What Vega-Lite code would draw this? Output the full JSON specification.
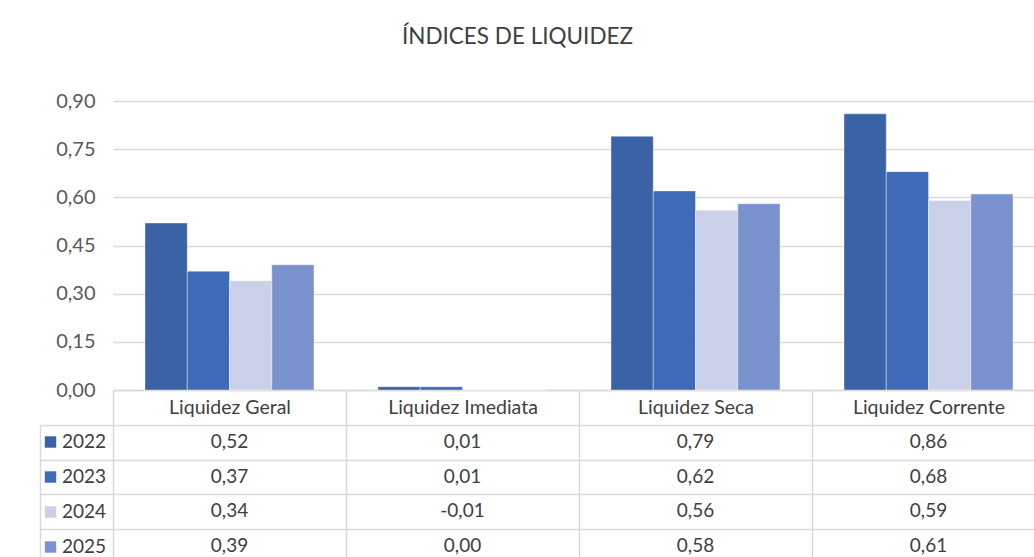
{
  "$schema": "https://vega.github.io/schema/vega-lite/v6.json",
  "width": 921,
  "height": 289,
  "autosize": {"type": "none"},
  "padding": {"left": 113, "top": 101, "right": 0, "bottom": 167},
  "background": "white",
  "title": {"text": "ÍNDICES DE LIQUIDEZ", "anchor": "middle", "dx": -56, "offset": 43, "fontSize": 22.5, "font": "Lato", "fontWeight": "normal", "color": "#404040"},
  "data": {"values": [
    {"cat": "Liquidez Geral", "ano": "2022", "valor": 0.52},
    {"cat": "Liquidez Geral", "ano": "2023", "valor": 0.37},
    {"cat": "Liquidez Geral", "ano": "2024", "valor": 0.34},
    {"cat": "Liquidez Geral", "ano": "2025", "valor": 0.39},
    {"cat": "Liquidez Imediata", "ano": "2022", "valor": 0.01},
    {"cat": "Liquidez Imediata", "ano": "2023", "valor": 0.01},
    {"cat": "Liquidez Imediata", "ano": "2024", "valor": -0.01},
    {"cat": "Liquidez Imediata", "ano": "2025", "valor": 0.0},
    {"cat": "Liquidez Seca", "ano": "2022", "valor": 0.79},
    {"cat": "Liquidez Seca", "ano": "2023", "valor": 0.62},
    {"cat": "Liquidez Seca", "ano": "2024", "valor": 0.56},
    {"cat": "Liquidez Seca", "ano": "2025", "valor": 0.58},
    {"cat": "Liquidez Corrente", "ano": "2022", "valor": 0.86},
    {"cat": "Liquidez Corrente", "ano": "2023", "valor": 0.68},
    {"cat": "Liquidez Corrente", "ano": "2024", "valor": 0.59},
    {"cat": "Liquidez Corrente", "ano": "2025", "valor": 0.61}
  ]},
  "layer": [
    {
      "mark": {"type": "bar", "stroke": "#ffffff", "strokeWidth": 0.75, "strokeOpacity": 0.5},
      "encoding": {
        "x": {"field": "cat", "type": "nominal", "sort": ["Liquidez Geral", "Liquidez Imediata", "Liquidez Seca", "Liquidez Corrente"],
          "scale": {"range": [0, 932], "paddingInner": 0, "paddingOuter": 0},
          "axis": {"title": null, "labelAngle": 0, "labelFont": "Lato", "labelFontSize": 19.5, "labelColor": "#404040", "tickBand": "extent", "tickSize": 172, "tickColor": "#d9d9d9", "tickWidth": 1.5, "labelPadding": -164, "domainColor": "#d9d9d9", "domainWidth": 1.5, "grid": false}},
        "xOffset": {"field": "ano", "type": "nominal", "scale": {"paddingInner": 0, "paddingOuter": 0.757}},
        "y": {"field": "valor", "type": "quantitative", "scale": {"domain": [0, 0.9], "nice": false, "clamp": true},
          "axis": {"title": null, "values": [0, 0.15, 0.3, 0.45, 0.6, 0.75, 0.9], "format": ".2f", "domain": false, "ticks": false, "labelPadding": 18, "labelFont": "Lato", "labelFontSize": 20, "labelColor": "#595959", "gridColor": "#d9d9d9", "gridWidth": 1.5}},
        "color": {"field": "ano", "type": "nominal",
          "scale": {"domain": ["2022", "2023", "2024", "2025"], "range": ["#3a62a6", "#3e6ab7", "#cbd0e9", "#7a92ce"]},
          "legend": {"orient": "none", "legendX": -72, "legendY": 331.5, "title": null, "direction": "vertical", "symbolType": "square", "symbolSize": 130, "symbolStrokeWidth": 0, "symbolOpacity": 1, "labelFont": "Lato", "labelFontSize": 19, "labelColor": "#404040", "rowPadding": 15, "labelOffset": 2, "padding": 0}}
      }
    },
    {
      "mark": {"type": "text", "font": "Lato", "fontSize": 19, "color": "#404040"},
      "encoding": {
        "x": {"field": "cat", "type": "nominal", "sort": ["Liquidez Geral", "Liquidez Imediata", "Liquidez Seca", "Liquidez Corrente"]},
        "y": {"field": "ano", "type": "nominal",
          "scale": {"domain": ["2022", "2023", "2024", "2025"], "range": [324, 462], "paddingInner": 0, "paddingOuter": 0},
          "axis": {"orient": "left", "offset": 73, "title": null, "labels": false, "domainColor": "#d9d9d9", "domainWidth": 1.5, "tickBand": "extent", "tickSize": -73, "tickColor": "#d9d9d9", "tickWidth": 1.5, "grid": true, "gridColor": "#d9d9d9", "gridWidth": 1.5}},
        "text": {"field": "valor", "type": "quantitative", "format": ".2f"}
      }
    }
  ],
  "resolve": {"scale": {"y": "independent"}, "axis": {"y": "independent"}},
  "config": {
    "view": {"stroke": null},
    "font": "Lato",
    "locale": {"number": {"decimal": ",", "thousands": ".", "grouping": [3], "currency": ["R$ ", ""], "minus": "-"}}
  }
}
